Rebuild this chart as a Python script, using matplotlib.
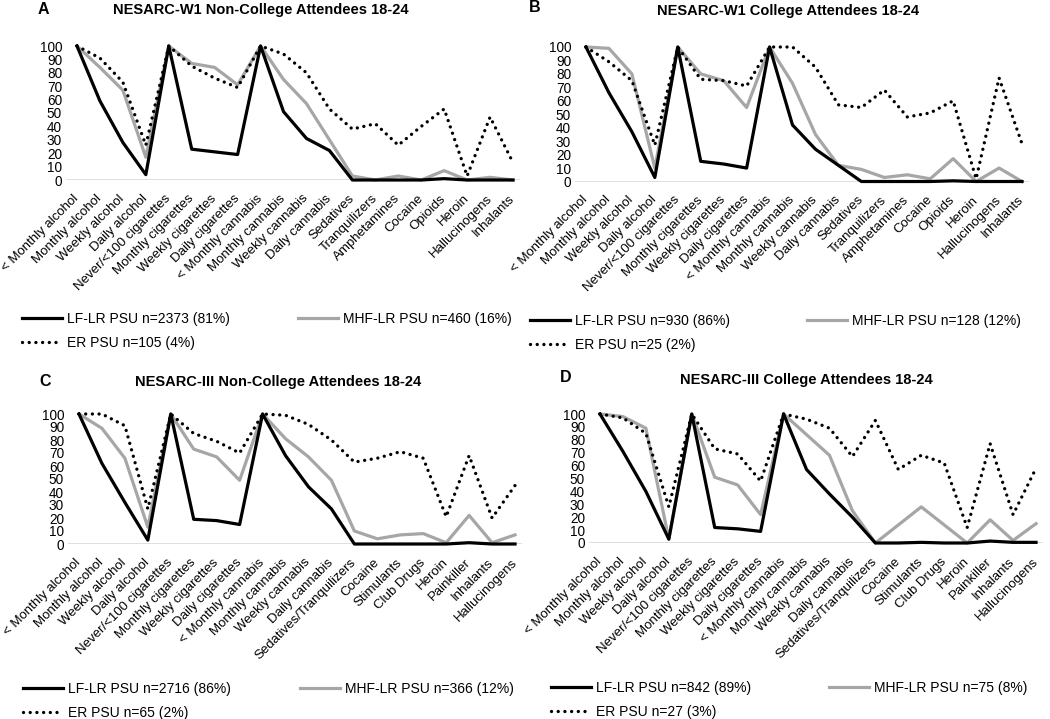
import matplotlib.pyplot as plt

plt.rcParams['font.family'] = ['Liberation Sans', 'DejaVu Sans']

# categories
cats_w1 = ['< Monthly alcohol', 'Monthly alcohol', 'Weekly alcohol', 'Daily alcohol',
           'Never/<100 cigarettes', 'Monthly cigarettes', 'Weekly cigarettes', 'Daily cigarettes',
           '< Monthly cannabis', 'Monthly cannabis', 'Weekly cannabis', 'Daily cannabis',
           'Sedatives', 'Tranquilizers', 'Amphetamines', 'Cocaine', 'Opioids', 'Heroin',
           'Hallucinogens', 'Inhalants']
cats_w3 = ['< Monthly alcohol', 'Monthly alcohol', 'Weekly alcohol', 'Daily alcohol',
           'Never/<100 cigarettes', 'Monthly cigarettes', 'Weekly cigarettes', 'Daily cigarettes',
           '< Monthly cannabis', 'Monthly cannabis', 'Weekly cannabis', 'Daily cannabis',
           'Sedatives/Tranquilizers', 'Cocaine', 'Stimulants', 'Club Drugs', 'Heroin',
           'Painkiller', 'Inhalants', 'Hallucinogens']

# A: NESARC-W1 non-college
a_lf = [100, 59, 28, 4, 100, 23, 21, 19, 100, 51, 31, 22, 0, 0, 0, 0, 1, 0, 0, 0]
a_mhf = [100, 84, 67, 17, 100, 87, 84, 71, 100, 75, 57, 30, 3, 0, 3, 0, 7, 0, 2, 0]
a_er = [100, 91, 73, 26, 100, 85, 76, 69, 100, 94, 80, 53, 38, 42, 26, 40, 53, 3, 47, 13]

# B: NESARC-W1 college
b_lf = [100, 66, 37, 3, 100, 15, 13, 10, 100, 42, 24, 12, 0, 0, 0, 0, 0.5, 0, 0, 0]
b_mhf = [100, 99, 80, 10, 100, 80, 75, 55, 100, 73, 35, 12, 9, 3, 5, 2, 17, 0, 10, 0]
b_er = [100, 89, 75, 27, 100, 76, 75, 71, 100, 100, 85, 57, 55, 68, 48, 51, 60, 2, 77, 28]

# C: NESARC-III non-college
c_lf = [100, 62, 32, 3, 100, 19, 18, 15, 100, 68, 44, 27, 0, 0, 0, 0, 0, 1, 0, 0]
c_mhf = [100, 89, 66, 13, 100, 73, 67, 49, 100, 81, 67, 49, 10, 4, 7, 8, 1, 22, 1, 7]
c_er = [100, 100, 91, 27, 100, 85, 79, 70, 100, 99, 92, 80, 63, 66, 71, 66, 21, 68, 20, 45]

# D: NESARC-III college
d_lf = [100, 71, 40, 3, 100, 12, 11, 9, 100, 57, 38, 20, 0, 0, 0.5, 0, 0, 1.5, 0.5, 0.5]
d_mhf = [100, 98, 89, 3, 100, 51, 45, 22, 100, 84, 68, 25, 0, 14, 28, 14, 0, 18, 2, 15]
d_er = [100, 97, 85, 28, 100, 73, 69, 48, 100, 96, 89, 67, 95, 57, 68, 62, 12, 77, 22, 58]

W, H = 1050, 719
fig = plt.figure(figsize=(W / 100, H / 100), dpi=100)

panels = [
    # letter, title, cats, series, legend labels, axes px (left, top, bottom), letter xy, title xy, legend xy
    ('A', 'NESARC-W1 Non-College Attendees 18-24', cats_w1, (a_lf, a_mhf, a_er),
     ('LF-LR PSU n=2373 (81%)', 'MHF-LR PSU n=460 (16%)', 'ER PSU n=105 (4%)'),
     (65.5, 46, 180), (38, 10), (261, 10), (22, 298, 320)),
    ('B', 'NESARC-W1 College Attendees 18-24', cats_w1, (b_lf, b_mhf, b_er),
     ('LF-LR PSU n=930 (86%)', 'MHF-LR PSU n=128 (12%)', 'ER PSU n=25 (2%)'),
     (574.5, 47, 181.5), (529, 8), (788, 11), (530, 807, 322)),
    ('C', 'NESARC-III Non-College Attendees 18-24', cats_w3, (c_lf, c_mhf, c_er),
     ('LF-LR PSU n=2716 (86%)', 'MHF-LR PSU n=366 (12%)', 'ER PSU n=65 (2%)'),
     (67.5, 414, 544), (39, 382), (278, 382), (23, 300, 690)),
    ('D', 'NESARC-III College Attendees 18-24', cats_w3, (d_lf, d_mhf, d_er),
     ('LF-LR PSU n=842 (89%)', 'MHF-LR PSU n=75 (8%)', 'ER PSU n=27 (3%)'),
     (588.5, 414, 543), (560, 378), (806, 380), (551, 829, 689)),
]

step = 22.95  # px between categories
for letter, title, cats, series, labels, box, lxy, txy, lg in panels:
    left, top, bottom = box
    width = 19.8 * step
    ax = fig.add_axes([left / W, 1 - bottom / H, width / W, (bottom - top) / H])
    x = list(range(len(cats)))
    lf, mhf, er = series
    h1, = ax.plot(x, lf, color='black', lw=2.3, clip_on=False, zorder=3)
    h2, = ax.plot(x, mhf, color='#a6a6a6', lw=2.3, clip_on=False, zorder=2)
    h3, = ax.plot(x, er, color='black', lw=2.4, linestyle=(0, (0.01, 2.0)),
                  dash_capstyle='round', clip_on=False, zorder=4)
    ax.axhline(0, color='#d9d9d9', lw=1.2, zorder=1)
    ax.set_xlim(-0.5, 19.3)
    ax.set_ylim(0, 100)
    ax.set_yticks(range(0, 101, 10))
    ax.set_xticks(x)
    ax.set_xticklabels(cats, rotation=45, ha='right', va='center', rotation_mode='anchor', fontsize=9.5)
    ax.tick_params(axis='x', length=0, pad=12)
    ax.tick_params(axis='y', length=0, pad=2.5, labelsize=9.8)
    for s in ax.spines.values():
        s.set_visible(False)
    ax.patch.set_alpha(0)

    fig.text(lxy[0] / W, 1 - lxy[1] / H, letter, fontsize=11.5, fontweight='bold', ha='left', va='center')
    fig.text(txy[0] / W, 1 - txy[1] / H, title, fontsize=10.5, fontweight='bold', ha='center', va='center')

    x1, x2, ry = lg
    common = dict(loc='upper left', frameon=False, fontsize=10, borderpad=0, borderaxespad=0,
                  handlelength=2.9, handletextpad=0.35, labelspacing=0.7)
    fig.legend([h1, h3], [labels[0], labels[2]], bbox_to_anchor=(x1 / W, 1 - (ry - 8) / H), **common)
    fig.legend([h2], [labels[1]], bbox_to_anchor=(x2 / W, 1 - (ry - 8) / H), **common)

fig.savefig('out.png', dpi=100)
